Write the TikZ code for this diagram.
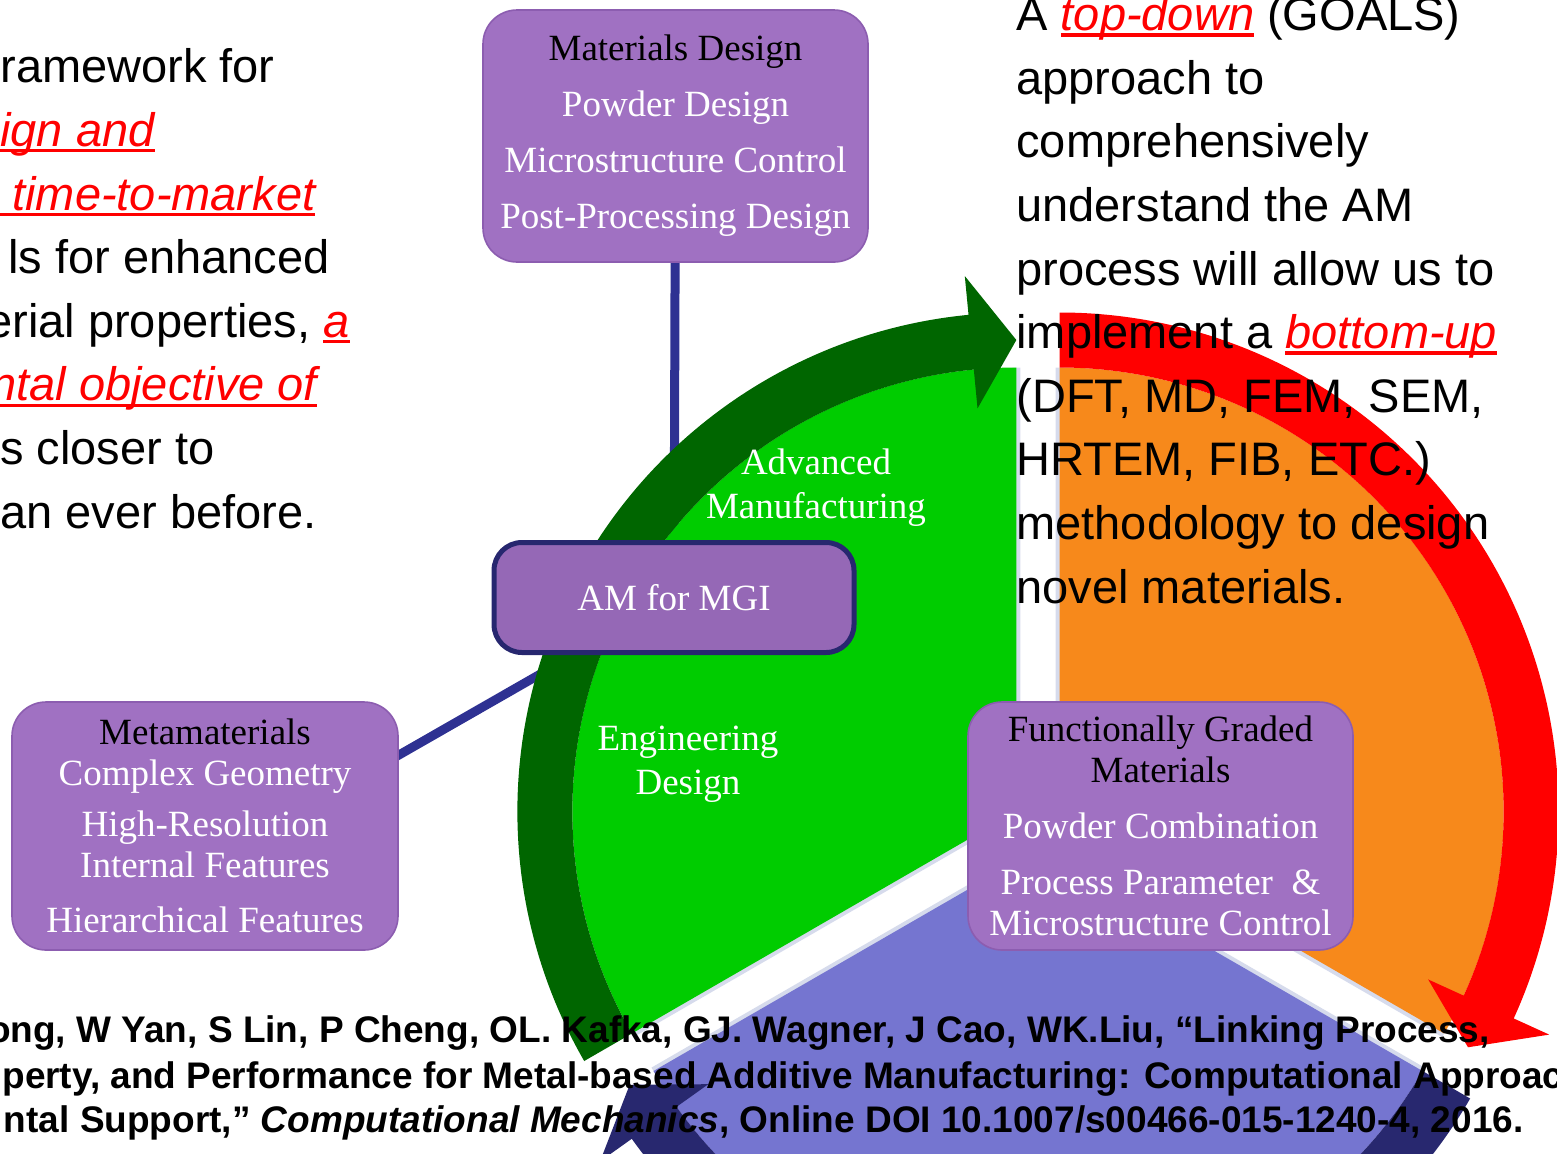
\documentclass[tikz,border=0pt]{standalone}
\usepackage{fontspec}
\setmainfont{Liberation Serif}
\newfontfamily\arialfont{Liberation Sans}
\usepackage{tikz}
\usetikzlibrary{backgrounds}
\definecolor{lgreen}{HTML}{00CC00}
\definecolor{dgreen}{HTML}{006600}
\definecolor{orangefill}{HTML}{F7891B}
\definecolor{bluefill}{HTML}{7575D0}
\definecolor{navyarrow}{HTML}{28286F}
\definecolor{linknavy}{HTML}{2E3192}
\definecolor{boxfill}{HTML}{A071C2}
\definecolor{boxedge}{HTML}{8C5DB0}
\definecolor{amfill}{HTML}{9568B6}
\definecolor{amedge}{HTML}{27276F}
\definecolor{gapedge}{HTML}{D6DBEC}

% red italic text with a thick underline
\newsavebox{\ulbox}
\newcommand{\redul}[1]{{\color{red}\itshape\sbox{\ulbox}{#1}\rlap{\rule[-3pt]{\wd\ulbox}{1.6pt}}\usebox{\ulbox}}}

\begin{document}
\begin{tikzpicture}[x=0.5pt, y=0.5pt]
    \tikzstyle slidetext=[anchor=base west, inner sep=0pt, align=left, font=\arialfont\fontsize{23.5}{31.8}\selectfont]
    \tikzstyle citetext=[inner sep=0pt, font=\arialfont\bfseries\fontsize{18.5}{22.5}\selectfont]
    \tikzstyle purplebox=[rounded corners=17pt, fill=boxfill, draw=boxedge, line width=0.8pt, align=center, text=white, inner sep=0pt]
    \tikzstyle sectorlabel=[align=center, text=white, inner sep=0pt, font=\fontsize{18.5}{22}\selectfont]
    \tikzstyle linkline=[line width=4.5pt, linknavy]
    \tikzstyle gapline=[line width=4pt, gapedge]
    \useasboundingbox (0,0) rectangle (1557,-1153);
    \clip (0,0) rectangle (1557,-1153);

    % three pie pieces, each pushed out from the middle
    \begin{scope}[shift={(1016.35,-811.5)}]
        \draw[gapline] (90:444) -- (0,0) -- (210:444);
        \fill[lgreen] (0,0) -- (90:444) arc[start angle=90, end angle=210, radius=444] -- cycle;
    \end{scope}
    \begin{scope}[shift={(1059.65,-811.5)}]
        \draw[gapline] (90:444) -- (0,0) -- (-30:444);
        \fill[orangefill] (0,0) -- (-30:444) arc[start angle=-30, end angle=90, radius=444] -- cycle;
    \end{scope}
    \begin{scope}[shift={(1038,-849)}]
        \draw[gapline] (-150:444) -- (0,0) -- (-30:444);
        \fill[bluefill] (0,0) -- (-150:444) arc[start angle=-150, end angle=-30, radius=444] -- cycle;
    \end{scope}

    % circular arrows round the pieces
    \begin{scope}[shift={(1016.35,-811.5)}]
        \fill[dgreen] (210:444) arc[start angle=210, end angle=95.5, radius=444] -- (95.5:405)
            -- (90:471.5) -- (95.5:538) -- (95.5:499) arc[start angle=95.5, end angle=210, radius=499] -- cycle;
    \end{scope}
    \begin{scope}[shift={(1059.65,-811.5)}]
        \fill[red] (90:444) arc[start angle=90, end angle=-24.5, radius=444] -- (-24.5:405)
            -- (-30:471.5) -- (-24.5:538) -- (-24.5:499) arc[start angle=-24.5, end angle=90, radius=499] -- cycle;
    \end{scope}
    \begin{scope}[shift={(1038,-849)}]
        \fill[navyarrow] (-30:444) arc[start angle=-30, end angle=-144.5, radius=444] -- (-144.5:405)
            -- (-150:471.5) -- (-144.5:538) -- (-144.5:499) arc[start angle=-144.5, end angle=-30, radius=499] -- cycle;
    \end{scope}

    \node[sectorlabel] (advman) at (816,-488) {Advanced\\Manufacturing};
    \node[sectorlabel] (engdes) at (688,-764) {Engineering\\Design};

    % boxes
    \node[purplebox, minimum width=192.5pt, minimum height=126pt, font=\fontsize{18.5}{28}\selectfont] (design) at (675.5,-136)
        {\textcolor{black}{Materials Design}\\ Powder Design\\ Microstructure Control\\ Post-Processing Design};
    \node[purplebox, fill=amfill, draw=amedge, line width=2.5pt, rounded corners=14pt, minimum width=180pt, minimum height=55pt, font=\fontsize{18.5}{22}\selectfont] (am) at (674,-597.5)
        {AM for MGI};
    \node[purplebox, minimum width=193pt, minimum height=124pt, font=\fontsize{18.5}{20.5}\selectfont] (meta) at (205,-826)
        {\textcolor{black}{Metamaterials}\\ Complex Geometry\\[5pt] High-Resolution\\ Internal Features\\[7pt] Hierarchical Features};
    \node[purplebox, minimum width=192.5pt, minimum height=124pt, font=\fontsize{18.5}{20.5}\selectfont] (fgm) at (1160.5,-826)
        {\textcolor{black}{Functionally Graded}\\ \textcolor{black}{Materials}\\[7.5pt] Powder Combination\\[7.5pt] Process Parameter \ \&\\ Microstructure Control};

    \begin{scope}[on background layer]
        \draw[linkline] (design) -- (am);
        \draw[linkline] (am) -- ([yshift=-20pt]meta.center);
    \end{scope}

    % slide text (base anchor sits on the last line)
    \node[slidetext] (goal) at (0,-528) {ramework for\\ \redul{ign and}\\ \redul{\hspace*{6pt}time-to-market}\\
        \hspace*{4pt}ls for enhanced\\ \hspace*{-7pt}erial properties, \redul{a}\\ \hspace*{-5pt}\redul{ntal objective of}\\
        s closer to\\ an ever before.};
    \node[slidetext] (approach) at (1016,-603) {A \redul{top-down} (GOALS)\\ approach to\\ comprehensively\\ understand the AM\\
        process will allow us to\\ implement a \redul{bottom-up}\\ (DFT, MD, FEM, SEM,\\ HRTEM, FIB, ETC.)\\
        methodology to design\\ novel materials.};

    \node[citetext, anchor=base east] (cite1) at (1490,-1042) {ong, W Yan, S Lin, P Cheng, OL. Kafka, GJ. Wagner, J Cao, WK.Liu, “Linking Process,};
    \node[citetext, anchor=base west] (cite2) at (2,-1088) {perty, and Performance for Metal-based Additive Manufacturing: Computational Approac};
    \node[citetext, anchor=base east] (cite3) at (1524,-1132) {ntal Support,” \textit{Computational Mechanics}, Online DOI 10.1007/s00466-015-1240-4, 2016.};
\end{tikzpicture}
\end{document}
